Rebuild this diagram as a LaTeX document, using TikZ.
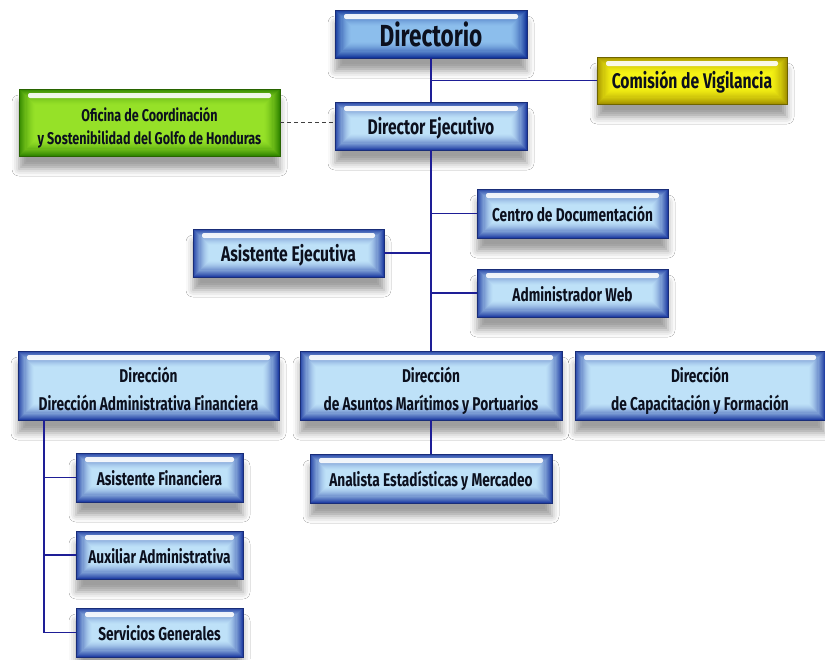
\documentclass[tikz,border=0pt]{standalone}
\usepackage{fontspec}
\setmainfont{Fira Sans}[FakeStretch=0.74]
\usetikzlibrary{shadows.blur}
\definecolor{bout}{RGB}{35,65,165}
\definecolor{binn}{RGB}{190,225,248}
\definecolor{bedge}{RGB}{25,45,120}
\definecolor{dout}{RGB}{20,55,155}
\definecolor{dinn}{RGB}{140,190,236}
\definecolor{gout}{RGB}{50,135,0}
\definecolor{ginn}{RGB}{150,225,40}
\definecolor{gedge}{RGB}{40,100,0}
\definecolor{yout}{RGB}{165,148,0}
\definecolor{yinn}{RGB}{245,242,20}
\definecolor{yedge}{RGB}{110,100,0}
\definecolor{linec}{RGB}{30,30,150}
\definecolor{txt}{RGB}{12,16,30}
\newcommand\lowr[2][-3pt]{\raisebox{#1}[\height][\depth]{\begin{tabular}{@{}c@{}}#2\end{tabular}}}
\tikzset{
  glow/.style 2 args={fill=#2, path picture={
    \foreach \i in {0,...,15}{
      \pgfmathtruncatemacro{\p}{100*(1-\i/16)^1.7}
      \draw[line width=1.5pt, draw=#1!\p!#2]
        ([xshift=\i*1.1pt+0.6pt, yshift=-\i*1.1pt-0.6pt]path picture bounding box.north west) rectangle
        ([xshift=-\i*1.1pt-0.6pt, yshift=\i*1.1pt+0.6pt]path picture bounding box.south east);
    }
    \fill[white, opacity=0.9, rounded corners=2pt]
      ([xshift=9pt,yshift=-4pt]path picture bounding box.north west) rectangle
      ([xshift=-9pt,yshift=-9pt]path picture bounding box.north east);}},
  orgbox/.style={rectangle, draw=bedge, line width=0.8pt, inner sep=0pt, align=center,
    text=txt, glow={bout}{binn},
    blur shadow={shadow xshift=0pt, shadow yshift=-13pt, shadow opacity=38, shadow blur radius=7pt}},
  topbox/.style={orgbox, glow={dout}{dinn}},
  greenbox/.style={orgbox, draw=gedge, glow={gout}{ginn}},
  yellowbox/.style={orgbox, draw=yedge, glow={yout}{yinn}},
  conn/.style={draw=linec, line width=1.5pt},
  dashconn/.style={draw=black!75, line width=0.8pt, dash pattern=on 4pt off 3pt},
  fbig/.style={font=\bfseries\fontsize{30.5}{32}\selectfont},
  fmid/.style={font=\bfseries\fontsize{21.2}{24}\selectfont},
  fsm/.style={font=\bfseries\fontsize{18.5}{27}\selectfont},
  fxs/.style={font=\bfseries\fontsize{17}{23}\selectfont},
}
\begin{document}
\begin{tikzpicture}[x=1pt,y=-1pt]
\fill[white] (0,0) rectangle (825,659);
\useasboundingbox (0,0) rectangle (825,659);

\node[topbox, fbig, minimum width=192pt, minimum height=48pt] (dir) at (431,34) {Directorio};
\node[yellowbox, fmid, minimum width=190pt, minimum height=47pt] (com) at (692,80.5) {\lowr{Comisión de Vigilancia}};
\node[greenbox, fxs, minimum width=261pt, minimum height=67pt] (ofi) at (149.5,122.5) {\lowr[-6pt]{Oficina de Coordinación\\y Sostenibilidad del Golfo de Honduras}};
\node[orgbox, fmid, minimum width=192pt, minimum height=48pt] (de) at (431,126) {\lowr{Director Ejecutivo}};
\node[orgbox, fsm, minimum width=191pt, minimum height=49pt] (cd) at (572.5,213.5) {\lowr{Centro de Documentación}};
\node[orgbox, fsm, minimum width=191pt, minimum height=48pt] (aw) at (572.5,293) {\lowr{Administrador Web}};
\node[orgbox, fmid, minimum width=191pt, minimum height=48pt] (ae) at (288.5,253) {\lowr{Asistente Ejecutiva}};
\node[orgbox, fsm, minimum width=261pt, minimum height=69pt] (daf) at (148.5,385.5) {\lowr[-6pt]{Dirección\\[1pt]Dirección Administrativa Financiera}};
\node[orgbox, fsm, minimum width=262pt, minimum height=69pt] (dam) at (431,385.5) {\lowr[-6pt]{Dirección\\[1pt]de Asuntos Marítimos y Portuarios}};
\node[orgbox, fsm, minimum width=250pt, minimum height=69pt] (dcf) at (700,385.5) {\lowr[-6pt]{Dirección\\[1pt]de Capacitación y Formación}};
\node[orgbox, fsm, minimum width=242pt, minimum height=49pt] (an) at (431,478.5) {\lowr{Analista Estadísticas y Mercadeo}};
\node[orgbox, fsm, minimum width=167pt, minimum height=49pt] (af) at (159.5,477.5) {\lowr{Asistente Financiera}};
\node[orgbox, fsm, minimum width=167pt, minimum height=48pt] (aux) at (159.5,555) {\lowr{Auxiliar Administrativa}};
\node[orgbox, fsm, minimum width=167pt, minimum height=49pt] (sg) at (159.5,632.5) {\lowr{Servicios Generales}};

\coordinate (lt) at (44,420);

\draw[conn] (dir.south) -- (de.north);
\draw[conn] (dir.south |- com.west) -- (com.west);
\draw[dashconn] (ofi.east) -- (ofi.east -| de.west);
\draw[conn] (de.south) -- (dam.north);
\draw[conn] (de.south |- cd.west) -- (cd.west);
\draw[conn] (de.south |- aw.west) -- (aw.west);
\draw[conn] (ae.east) -- (ae.east -| de.south);
\draw[conn] (dam.south) -- (an.north);
\draw[conn] (lt) |- (af.west);
\draw[conn] (lt) |- (aux.west);
\draw[conn] (lt) |- (sg.west);
\end{tikzpicture}
\end{document}
